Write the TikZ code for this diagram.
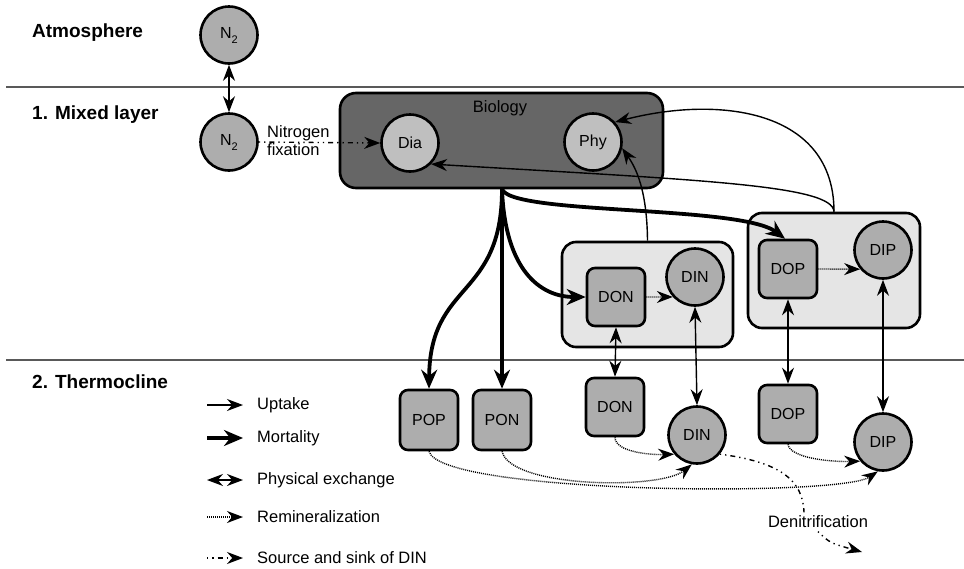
\documentclass[tikz,border=0pt]{standalone}
\usepackage{fontspec}
\setmainfont{Liberation Sans}
\usetikzlibrary{arrows.meta}

\definecolor{biofill}{gray}{0.40}
\definecolor{cellfill}{gray}{0.75}
\definecolor{poolfill}{gray}{0.68}
\definecolor{grpfill}{gray}{0.90}

\tikzset{
  pool/.style={draw, line width=2.6pt, fill=poolfill, rounded corners=8pt,
    minimum width=58pt, minimum height=58pt, inner sep=0pt,
    font=\fontsize{16}{16}\selectfont},
  inorg/.style={draw, circle, line width=2.6pt, fill=poolfill,
    minimum size=57pt, inner sep=0pt, font=\fontsize{16}{16}\selectfont},
  cell/.style={inorg, fill=cellfill},
  grpbox/.style={draw, line width=2.6pt, fill=grpfill, rounded corners=14pt},
  layername/.style={anchor=west, inner sep=0pt, font=\fontsize{19}{19}\selectfont\bfseries},
  lbl/.style={font=\fontsize{16.5}{18}\selectfont},
}
\tikzstyle{uptake}=[line width=1.4pt, -{Stealth[length=16pt,width=12pt]}]
\tikzstyle{mortality}=[line width=3.8pt, -{Stealth[length=19pt,width=16pt]}]
\tikzstyle{exchange}=[line width=1.4pt, {Stealth[length=16pt,width=12pt]}-{Stealth[length=16pt,width=12pt]}]
\tikzstyle{remin}=[line width=1.4pt, dash pattern=on 1pt off 1pt, -{Stealth[length=16pt,width=12pt]}]
\tikzstyle{srcline}=[line width=1.4pt, dash pattern=on 1.3pt off 4pt on 1.3pt off 4pt on 5pt off 4pt]
\tikzstyle{srcsink}=[srcline, -{Stealth[length=16pt,width=12pt]}]

\begin{document}
\begin{tikzpicture}[x=1pt,y=-1pt]
  \useasboundingbox (0,0) rectangle (964,568);

  \draw[gray!70!black, line width=1.1pt] (6,87) -- (964,87);
  \draw[gray!70!black, line width=1.1pt] (6,360) -- (964,360);

  \node[layername] (atm) at (32,33) {Atmosphere};
  \node[layername] (mix) at (32,115) {1. Mixed layer};
  \node[layername] (thc) at (32,382) {2. Thermocline};

  \node[inorg] (N2a) at (229,35) {N\raisebox{-5pt}{\fontsize{11}{11}\selectfont 2}};
  \node[inorg] (N2m) at (229,142) {N\raisebox{-5pt}{\fontsize{11}{11}\selectfont 2}};

  \node[draw, line width=2.6pt, fill=biofill, rounded corners=16pt,
    minimum width=323pt, minimum height=95pt] (bio) at (501.5,140.5) {};
  \node[lbl] (biolbl) at (500,108) {Biology};
  \node[cell] (Dia) at (410,143) {Dia};
  \node[cell] (Phy) at (593,142) {Phy};

  \node[grpbox, minimum width=171pt, minimum height=105pt] (grpN) at (647.5,294.5) {};
  \node[grpbox, minimum width=172pt, minimum height=115pt] (grpP) at (834,270.5) {};
  \node[pool] (DONm) at (616,297) {DON};
  \node[inorg] (DINm) at (695,277) {DIN};
  \node[pool] (DOPm) at (788,269) {DOP};
  \node[inorg] (DIPm) at (883,250) {DIP};

  \node[pool, minimum height=60pt] (POP) at (429,420) {POP};
  \node[pool, minimum height=60pt] (PON) at (502,420) {PON};
  \node[pool] (DONt) at (615,407) {DON};
  \node[inorg] (DINt) at (697,435) {DIN};
  \node[pool] (DOPt) at (788,414) {DOP};
  \node[inorg] (DIPt) at (883,442) {DIP};

  \draw[exchange] (N2a) -- (N2m);
  \draw[srcsink] (N2m.east) -- (Dia.west);
  \node[lbl, anchor=west, align=left, inner sep=0pt] (fix) at (267,141) {Nitrogen\\fixation};

  \draw[uptake] (grpN.north) .. controls (647,190) and (636,168) .. (Phy.-12);
  \draw[uptake] (grpP.north) .. controls (834,110) and (720,95) .. (Phy.42);
  \draw[uptake] (grpP.north) .. controls (833,185) and (700,180) .. (Dia.-45);

  \coordinate (mort) at (502,189);
  \draw[mortality] (mort) .. controls (502,300) and (430,280) .. (POP.north);
  \draw[mortality] (mort) -- (PON.north);
  \draw[mortality] (mort) .. controls (505,270) and (540,297) .. (DONm.west);
  \draw[mortality] (mort) .. controls (510,215) and (740,205) .. ([xshift=-3pt]DOPm.north);

  \draw[remin] (DONm.east) -- (DINm.-138);
  \draw[remin] (DOPm.east) -- (DIPm.-140);
  \draw[remin] (DONt.south) .. controls (615,452) and (650,455) .. (DINt.-140);
  \draw[remin] (DOPt.south) .. controls (790,458) and (830,462) .. (DIPt.-140);
  \draw[remin] (PON.south) .. controls (510,488) and (660,490) .. (DINt.-100);
  \draw[remin] (POP.south) .. controls (440,494) and (840,497) .. (DIPt.-100);

  \draw[exchange] (DONm.south) -- (DONt.north);
  \draw[exchange] (DINm.south) -- (DINt.north);
  \draw[exchange] (DOPm.south) -- (DOPt.north);
  \draw[exchange] (DIPm.south) -- (DIPt.north);

  \node[lbl] (denit) at (818,522) {Denitrification};
  \coordinate (sink) at (862,552);
  \draw[srcline] (DINt.-40) .. controls (780,462) and (803,480) .. ([xshift=-14pt]denit.north);
  \draw[srcsink] (denit.south) .. controls (830,543) .. (sink);

  \foreach \y/\sty/\txt in {405/uptake/Uptake, 438/mortality/Mortality,
      480/exchange/Physical exchange, 517/remin/Remineralization,
      558/srcsink/Source and sink of DIN}{
    \node[lbl, anchor=west, inner sep=0pt] (key-\sty) at (257,\y) {\txt};
    \draw[\sty] ([xshift=-50pt]key-\sty.west) -- ([xshift=-14pt]key-\sty.west);
  }
\end{tikzpicture}
\end{document}
